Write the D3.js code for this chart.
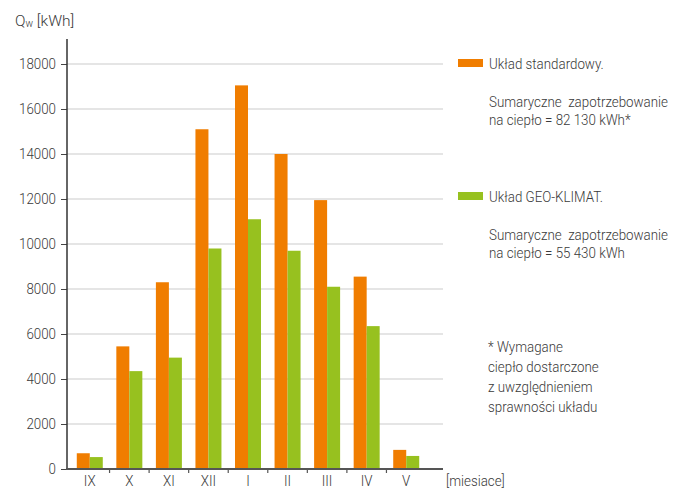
<!DOCTYPE html>
<html>
<head>
<meta charset="utf-8">
<script src="https://cdn.jsdelivr.net/npm/d3@7"></script>
<style>
  body { margin: 0; background: #fff; }
  svg text { font-family: Roboto, "DejaVu Sans Condensed", sans-serif; font-weight: 300; fill: #3a3a3a; }
</style>
</head>
<body>
<script>
// data
var months = ["IX", "X", "XI", "XII", "I", "II", "III", "IV", "V"];
var standard = [700, 5450, 8300, 15100, 17050, 14000, 11950, 8550, 850];
var geoKlimat = [530, 4350, 4950, 9800, 11100, 9700, 8100, 6350, 580];
var yTicks = [0, 2000, 4000, 6000, 8000, 10000, 12000, 14000, 16000, 18000];
var seriesNames = ["standard", "geo"];
var colors = {standard: "#f07d00", geo: "#97c11f"};

var W = 683, H = 490;
var FS = "15.5px";   // base font size
var CONDENSE = 0.86;  // reference font is a narrow one

var svg = d3.select("body").append("svg")
    .attr("width", W)
    .attr("height", H);

// scales
var x = d3.scaleBand()
    .domain(months)
    .range([70, 426]);
var xs = d3.scaleBand()
    .domain(seriesNames)
    .range([0, 26]);
var y = d3.scaleLinear()
    .domain([0, 18000])
    .range([469, 64]);

// gridlines
svg.append("g")
    .selectAll("line")
    .data(yTicks.slice(1))
    .join("line")
        .attr("x1", 67).attr("x2", 443)
        .attr("y1", function(d) { return y(d); })
        .attr("y2", function(d) { return y(d); })
        .attr("stroke", "#dcdcdc")
        .attr("stroke-width", 1.5);

// bars
var data = months.map(function(m, i) {
    return {month: m, standard: standard[i], geo: geoKlimat[i]};
});
var groups = svg.append("g")
    .selectAll("g")
    .data(data)
    .join("g")
        .attr("transform", function(d) { return "translate(" + (x(d.month) + x.bandwidth() / 2 - 13) + ",0)"; });
groups.selectAll("rect")
    .data(function(d) { return seriesNames.map(function(s) { return {key: s, value: d[s]}; }); })
    .join("rect")
        .attr("x", function(d) { return xs(d.key); })
        .attr("width", xs.bandwidth())
        .attr("y", function(d) { return y(d.value); })
        .attr("height", function(d) { return y(0) - y(d.value); })
        .attr("fill", function(d) { return colors[d.key]; });

// y axis
var yAxis = svg.append("g")
    .attr("transform", "translate(67,0)")
    .call(d3.axisLeft(y).tickValues(yTicks).tickSize(6).tickPadding(5).tickFormat(d3.format("d")));
yAxis.select(".domain").remove();
yAxis.selectAll(".tick line").attr("stroke", "#444");
yAxis.selectAll(".tick text")
    .style("font-family", null)
    .attr("font-size", FS)
    .attr("fill", "#3a3a3a");
yAxis.attr("font-family", null).attr("font-size", null);
svg.append("line")
    .attr("x1", 67).attr("x2", 67)
    .attr("y1", 39).attr("y2", 469)
    .attr("stroke", "#333").attr("stroke-width", 1.5);

// x axis
svg.append("line")
    .attr("x1", 66).attr("x2", 443)
    .attr("y1", 469).attr("y2", 469)
    .attr("stroke", "#555").attr("stroke-width", 2);
svg.append("g")
    .selectAll("line")
    .data(months.slice(1))
    .join("line")
        .attr("x1", function(d) { return x(d); })
        .attr("x2", function(d) { return x(d); })
        .attr("y1", 469).attr("y2", 473)
        .attr("stroke", "#555").attr("stroke-width", 1.2);
svg.append("g")
    .selectAll("text")
    .data(months)
    .join("text")
        .attr("class", "cond")
        .attr("x", function(d) { return x(d) + x.bandwidth() / 2; })
        .attr("y", 486)
        .attr("text-anchor", "middle")
        .attr("font-size", FS)
        .text(function(d) { return d; });
svg.append("text")
    .attr("class", "cond")
    .attr("x", 446).attr("y", 486)
    .attr("font-size", FS)
    .text("[miesiace]");

// axis title
var title = svg.append("text")
    .attr("x", 15).attr("y", 26)
    .attr("font-size", FS);
title.append("tspan").text("Q");
title.append("tspan").attr("font-size", "10px").attr("dy", 1).text("w");
title.append("tspan").attr("dy", -1).text(" [kWh]");

// legend
var legend = [
    {key: "standard", name: "Układ standardowy.", lines: ["Sumaryczne  zapotrzebowanie", "na ciepło = 82 130 kWh*"], y: 59},
    {key: "geo", name: "Układ GEO-KLIMAT.", lines: ["Sumaryczne  zapotrzebowanie", "na ciepło = 55 430 kWh"], y: 192}
];
legend.forEach(function(l) {
    svg.append("rect")
        .attr("x", 458).attr("y", l.y)
        .attr("width", 25).attr("height", 8)
        .attr("fill", colors[l.key]);
    svg.append("text")
        .attr("class", "cond")
        .attr("x", 489).attr("y", l.y + 10)
        .attr("font-size", FS)
        .text(l.name);
    l.lines.forEach(function(t, i) {
        svg.append("text")
            .attr("class", "cond")
            .attr("x", 489).attr("y", l.y + 48 + i * 18)
            .attr("font-size", FS)
            .style("white-space", "pre")
            .text(t);
    });
});

// footnote
var note = ["* Wymagane", "ciepło dostarczone", "z uwzględnieniem", "sprawności układu"];
svg.append("g")
    .selectAll("text")
    .data(note)
    .join("text")
        .attr("class", "cond")
        .attr("x", 488)
        .attr("y", function(d, i) { return 352 + i * 20; })
        .attr("font-size", FS)
        .text(function(d) { return d; });

// squeeze the text to look like the narrow font of the original
yAxis.selectAll(".tick text").classed("cond", true);
svg.selectAll("text.cond").each(function() {
    var w = this.getComputedTextLength();
    this.setAttribute("textLength", w * CONDENSE);
    this.setAttribute("lengthAdjust", "spacingAndGlyphs");
});
</script>
</body>
</html>
